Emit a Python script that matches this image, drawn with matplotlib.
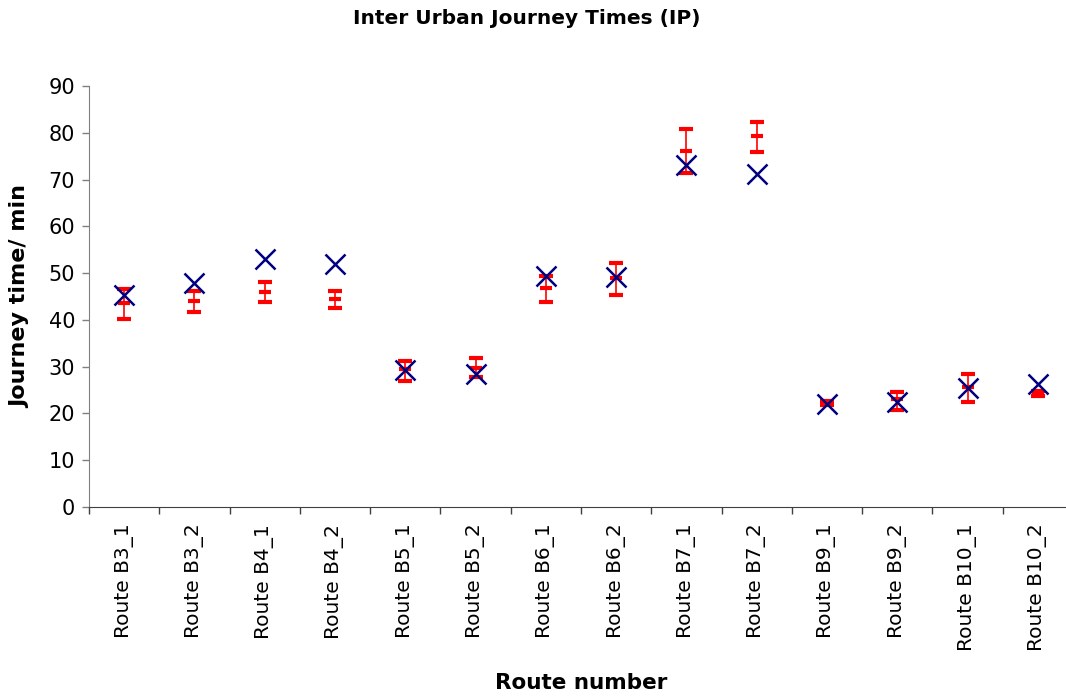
import matplotlib
matplotlib.use("Agg")
import matplotlib.pyplot as plt
import numpy as np

plt.rcParams['font.family'] = ['DejaVu Sans']

routes = ["Route B3_1", "Route B3_2", "Route B4_1", "Route B4_2",
          "Route B5_1", "Route B5_2", "Route B6_1", "Route B6_2",
          "Route B7_1", "Route B7_2", "Route B9_1", "Route B9_2",
          "Route B10_1", "Route B10_2"]

# Mean journey time with upper / lower range
mean_time = [43.7, 44.0, 46.0, 44.4, 29.6, 29.8, 46.8, 48.9, 76.2, 79.4, 22.2, 23.1, 25.6, 24.1]
upper_time = [46.5, 46.2, 48.2, 46.2, 31.3, 31.8, 49.4, 52.2, 80.8, 82.3, 22.6, 24.5, 28.5, 24.9]
lower_time = [40.2, 41.7, 43.8, 42.5, 26.9, 27.7, 43.8, 45.4, 71.5, 75.9, 21.9, 20.7, 22.5, 23.7]

# Comparison journey time per route
other_time = [45.4, 47.8, 53.1, 51.9, 29.3, 28.5, 49.4, 49.1, 73.2, 71.2, 22.1, 22.5, 25.4, 26.2]

yticks = [0, 10, 20, 30, 40, 50, 60, 70, 80, 90]

fig = plt.figure(figsize=(10.66, 6.96), dpi=100)
ax = fig.add_axes([89 / 1066, 1 - 507 / 696, 984 / 1066, 421 / 696])

x = np.arange(len(routes))
mean_arr = np.array(mean_time)
err = np.vstack([mean_arr - np.array(lower_time), np.array(upper_time) - mean_arr])

ax.errorbar(x, mean_arr, yerr=err, fmt='_', color='#ff0000', ecolor='#ff0000',
            elinewidth=1.2, capsize=5.2, capthick=1.2, markersize=9,
            markeredgewidth=3, zorder=3)
ax.plot(x, other_time, linestyle='none', marker='x', color='#000080',
        markersize=14, markeredgewidth=1.8, zorder=4)

ax.set_xlim(-0.5, len(routes) - 0.5)
ax.set_ylim(0, 90)
ax.set_yticks(yticks)
ax.tick_params(axis='y', labelsize=15, length=5, width=1, color='#808080',
               direction='out', pad=5)

# category labels centred on each route, ticks on the boundaries
ax.set_xticks(x)
ax.set_xticklabels(routes, rotation=90, fontsize=14.5)
ax.tick_params(axis='x', which='major', length=0, pad=12)
ax.set_xticks(np.arange(-0.5, len(routes) + 0.5, 1), minor=True)
ax.tick_params(axis='x', which='minor', length=5, width=1, color='#404040',
               direction='out')

for side in ('top', 'right'):
    ax.spines[side].set_visible(False)
ax.spines['left'].set_color('#808080')
ax.spines['bottom'].set_color('#404040')

ax.set_ylabel('Journey time/ min', fontsize=16, fontweight='bold')
ax.yaxis.set_label_coords(-0.06, 0.5)
fig.text(581 / 1066, 1 - 683 / 696, 'Route number', ha='center', va='center',
         fontsize=15.5, fontweight='bold')
fig.text(0.494, 1 - 19 / 696, 'Inter Urban Journey Times (IP)', ha='center',
         va='center', fontsize=14.5, fontweight='bold')

fig.savefig('out.png', dpi=100)
